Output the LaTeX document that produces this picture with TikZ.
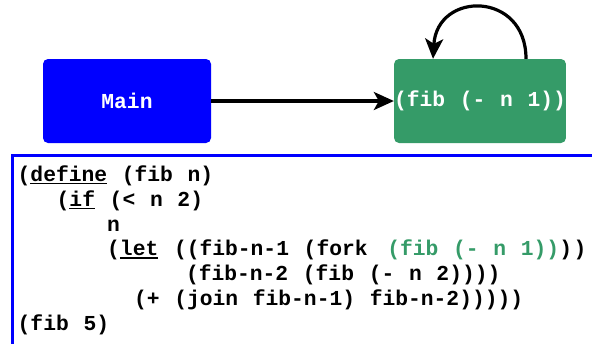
\documentclass[tikz,border=0pt]{standalone}
\usepackage{fontspec}
\usetikzlibrary{arrows.meta}
\newfontfamily\codefont[WordSpace=1.15]{Liberation Mono}

\definecolor{mainblue}{RGB}{0,0,255}
\definecolor{forkgreen}{RGB}{53,155,104}

% underlined keyword
\newsavebox{\keywbox}
\newcommand{\keyw}[1]{\sbox{\keywbox}{#1}\rlap{\rule[-2.8pt]{\wd\keywbox}{1.5pt}}\usebox{\keywbox}}

\tikzset{
  box/.style={rounded corners=5pt, inner sep=0pt, minimum height=84pt,
    text=white, font=\codefont\bfseries\fontsize{21.3}{24}\selectfont},
  mainbox/.style={box, fill=mainblue, minimum width=168pt},
  forkbox/.style={box, fill=forkgreen, minimum width=167pt},
  flow/.style={line width=3.2pt, -{Stealth[length=20pt,width=18pt,inset=5pt]}},
  codeline/.style={anchor=base west, inner sep=0pt,
    font=\codefont\bfseries\fontsize{21.3}{24}\selectfont},
  codeframe/.style={draw=mainblue, line width=3pt},
}

\begin{document}
\begin{tikzpicture}[x=1pt,y=-1pt]
  \useasboundingbox (0,0) rectangle (592,343);

  % the two tasks
  \node[mainbox] (main) at (127,101) {Main};
  \node[forkbox] (fib) at (480,101) {(fib (- n 1))};
  \draw[flow] (main) -- (fib);

  % recursive call back into itself
  \coordinate (loopout) at ([xshift=46pt]fib.north);
  \coordinate (loopin) at ([xshift=-47pt]fib.north);
  \draw[flow] (loopout) .. controls +(0,-68) and +(4,-68) .. (loopin);

  % source listing
  \begin{scope}
    \clip (0,0) rectangle (592,343);
    \draw[codeframe] (12,155.5) rectangle (620,370);
  \end{scope}
  \node[codeline] (l1) at (17.5,181.5) {(\keyw{define} (fib n)};
  \node[codeline] (l2) at (56.5,206.25) {(\keyw{if} (< n 2)};
  \node[codeline] (l3) at (107,231) {n};
  \node[codeline] (l4) at (107,255.75)
    {(\keyw{let}\hspace{1pt} ((fib-n-1 (fork\hspace{5pt} \textcolor{forkgreen}{(fib (- n 1))})\kern1.5pt)};
  \node[codeline] (l5) at (185.8,280.5) {(fib-n-2 (fib (- n 2))))};
  \node[codeline] (l6) at (133.8,305.25) {(+ (join fib-n-1) fib-n-2)))))};
  \node[codeline] (l7) at (17.5,330) {(fib 5)};
\end{tikzpicture}
\end{document}
